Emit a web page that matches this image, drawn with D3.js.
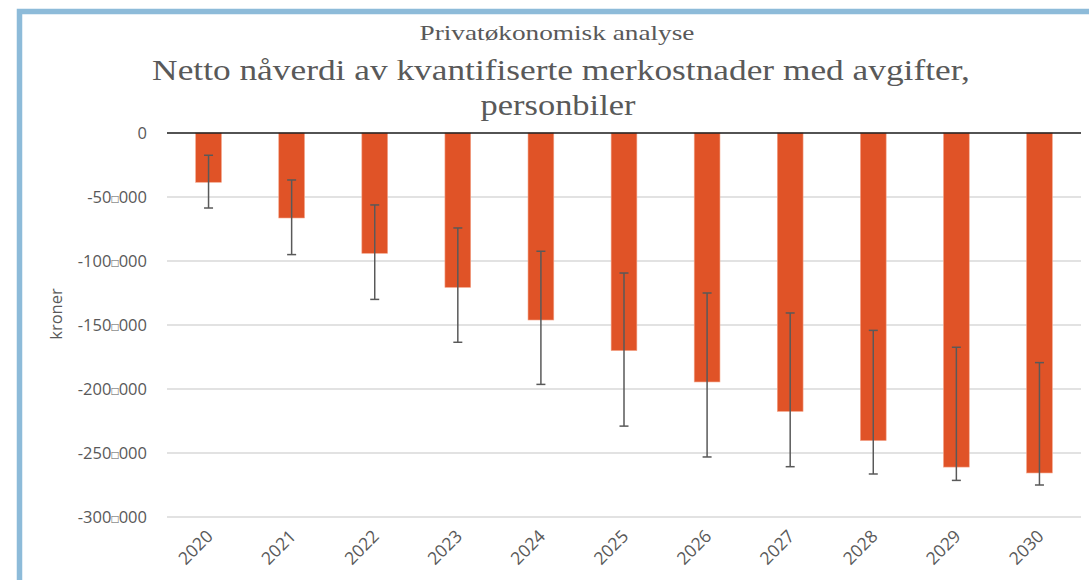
<!DOCTYPE html>
<html>
<head>
<meta charset="utf-8">
<script src="https://cdn.jsdelivr.net/npm/d3@7"></script>
<style>
	body { margin: 0; background: #fff; }
	svg text { fill: #595959; }
</style>
</head>
<body>
<div id="chart"></div>
<script>
const width = 1089, height = 580;

// Données (kroner)
const years = ["2020", "2021", "2022", "2023", "2024", "2025", "2026", "2027", "2028", "2029", "2030"];
const values = [-38500, -66400, -94000, -120600, -146100, -170000, -194500, -217500, -240300, -261000, -265600];
const errLow = [-58600, -95000, -130000, -163500, -196400, -229000, -253100, -260700, -266400, -271400, -275000];
const errHigh = [-17400, -36700, -56200, -74200, -92400, -109400, -125000, -140600, -154200, -167400, -179400];
const yTicks = [0, -50000, -100000, -150000, -200000, -250000, -300000];

const svg = d3.select("#chart")
	.append("svg")
	.attr("width", width)
	.attr("height", height);

// Cadre bleu
svg.append("rect")
	.attr("x", 19.5).attr("y", 11.5)
	.attr("width", width).attr("height", height)
	.style("fill", "none")
	.style("stroke", "#8dbbd9")
	.style("stroke-width", 5.5);

const x = d3.scaleBand()
	.domain(years)
	.range([167, 1081])
	.paddingInner(0.69)
	.paddingOuter(0.345);

const y = d3.scaleLinear()
	.domain([-300000, 0])
	.range([517, 133]);

// Grille
svg.append("g")
	.selectAll("line")
	.data(yTicks.filter(d => d != 0))
	.enter()
	.append("line")
	.attr("x1", 167).attr("x2", 1081)
	.attr("y1", d => y(d)).attr("y2", d => y(d))
	.style("stroke", "#d9d9d9")
	.style("stroke-width", 1.5);

// Étiquettes axe Y (séparateur de milliers affiché comme une petite boîte)
const yLab = svg.append("g")
	.selectAll("text")
	.data(yTicks)
	.enter()
	.append("text")
	.attr("x", 147)
	.attr("y", d => y(d))
	.attr("dy", "0.36em")
	.attr("text-anchor", "end")
	.style("font-family", "'Open Sans', sans-serif")
	.style("font-size", "16.5px");

yLab.each(function(d){
	const t = d3.select(this);
	if (d == 0) { t.text("0"); return; }
	const s = String(d);
	t.append("tspan").text(s.slice(0, -3));
	t.append("tspan").style("font-size", "12px").text("\u25A1");
	t.append("tspan").text(s.slice(-3));
});

svg.append("text")
	.attr("transform", "translate(62,314) rotate(-90)")
	.attr("text-anchor", "middle")
	.style("font-family", "'Open Sans', sans-serif")
	.style("font-size", "16.5px")
	.text("kroner");

// Barres
svg.append("g")
	.selectAll("rect")
	.data(years)
	.enter()
	.append("rect")
	.attr("x", d => x(d))
	.attr("y", y(0))
	.attr("width", x.bandwidth())
	.attr("height", (d, i) => y(values[i]) - y(0))
	.style("fill", "#e05327")
	.style("stroke", "#f4a58a")
	.style("stroke-width", 0.6);

// Ligne zéro
svg.append("line")
	.attr("x1", 167).attr("x2", 1081)
	.attr("y1", y(0)).attr("y2", y(0))
	.style("stroke", "#1a1a1a")
	.style("stroke-width", 1.5);

// Barres d'erreur
const err = svg.append("g")
	.style("stroke", "#595959")
	.style("stroke-width", 1.5);

years.forEach(function(d, i){
	const cx = x(d) + x.bandwidth() / 2;
	err.append("line")
		.attr("x1", cx).attr("x2", cx)
		.attr("y1", y(errHigh[i])).attr("y2", y(errLow[i]));
	[errHigh[i], errLow[i]].forEach(function(v){
		err.append("line")
			.attr("x1", cx - 4.5).attr("x2", cx + 4.5)
			.attr("y1", y(v)).attr("y2", y(v));
	});
});

// Étiquettes axe X
svg.append("g")
	.selectAll("text")
	.data(years)
	.enter()
	.append("text")
	.attr("transform", d => "translate(" + (x(d) + x.bandwidth() / 2 + 1) + ",533) rotate(-45)")
	.attr("text-anchor", "end")
	.attr("dy", "0.36em")
	.style("font-family", "'Open Sans', sans-serif")
	.style("font-size", "17.5px")
	.text(d => d);

// Titres (police plus étroite que l'originale : étirée horizontalement à la largeur voulue)
const titles = [
	{ text: "Privatøkonomisk analyse", x: 557, y: 40, size: 20, w: 275 },
	{ text: "Netto nåverdi av kvantifiserte merkostnader med avgifter,", x: 561, y: 80, size: 30.5, w: 818 },
	{ text: "personbiler", x: 558, y: 115, size: 30.5, w: 155 }
];

titles.forEach(function(t){
	const el = svg.append("text")
		.attr("text-anchor", "middle")
		.style("font-family", "'Liberation Serif', serif")
		.style("font-size", t.size + "px")
		.text(t.text);
	const k = t.w / el.node().getComputedTextLength();
	el.attr("transform", "translate(" + t.x + "," + t.y + ") scale(" + k + ",1)");
});
</script>
</body>
</html>
